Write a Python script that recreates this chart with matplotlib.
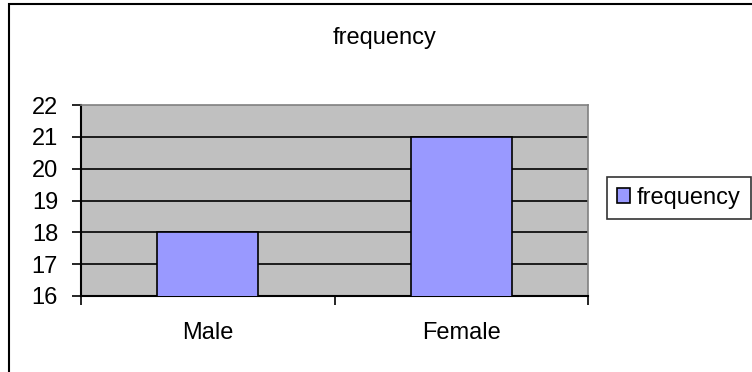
import matplotlib
matplotlib.use("Agg")
import matplotlib.pyplot as plt
from matplotlib.patches import Rectangle

# Chart data
categories = ["Male", "Female"]
frequency = [18, 21]
y_ticks = [16, 17, 18, 19, 20, 21, 22]

plt.rcParams["font.family"] = ["Liberation Sans", "DejaVu Sans"]
FS = 17

fig = plt.figure(figsize=(7.52, 3.72), dpi=100)
ax = fig.add_axes([81 / 752, 76 / 372, 507 / 752, 191 / 372])

# Outer chart frame, running off the right and bottom edges
fig.patches.append(Rectangle((8.5 / 752, -0.2), 1.2, 1 - 4.5 / 372 + 0.2,
                             transform=fig.transFigure, fill=False,
                             edgecolor="black", linewidth=1.5))

ax.set_facecolor("#c0c0c0")
positions = range(len(categories))
ax.bar(positions, frequency, width=0.4, bottom=0, color="#9999ff",
       edgecolor="black", linewidth=1.2, zorder=3, label="frequency")

ax.set_ylim(y_ticks[0], y_ticks[-1])
ax.set_xlim(-0.5, len(categories) - 0.5)
ax.set_yticks(y_ticks)
for y in y_ticks[1:-1]:
    ax.axhline(y, color="black", linewidth=1.2, zorder=2)

# Category labels sit between the tick marks
ax.set_xticks([-0.5, 0.5, 1.5])
ax.set_xticklabels([])
ax.set_xticks(list(positions), minor=True)
ax.set_xticklabels(categories, minor=True)
ax.tick_params(axis="x", which="minor", length=0, pad=19, labelsize=FS)
ax.tick_params(axis="x", which="major", length=6.5, width=1.2, direction="out")
ax.tick_params(axis="y", length=6.5, width=1.2, direction="out", pad=10,
               labelsize=FS)

for side in ("top", "right"):
    ax.spines[side].set_color("#808080")
    ax.spines[side].set_linewidth(1.2)
for side in ("left", "bottom"):
    ax.spines[side].set_color("black")
    ax.spines[side].set_linewidth(1.5)

fig.text(385 / 752, 1 - 38 / 372, "frequency", ha="center", va="center",
         fontsize=FS)

leg = ax.legend(loc="upper left", bbox_to_anchor=(607 / 752, 1 - 177 / 372),
                bbox_transform=fig.transFigure, fontsize=FS, frameon=True,
                fancybox=False, handlelength=0.55, handleheight=0.55,
                handletextpad=0.3, borderpad=0.42, borderaxespad=0)
leg.get_frame().set_edgecolor("black")
leg.get_frame().set_linewidth(1.2)

fig.savefig("out.png", dpi=100)
